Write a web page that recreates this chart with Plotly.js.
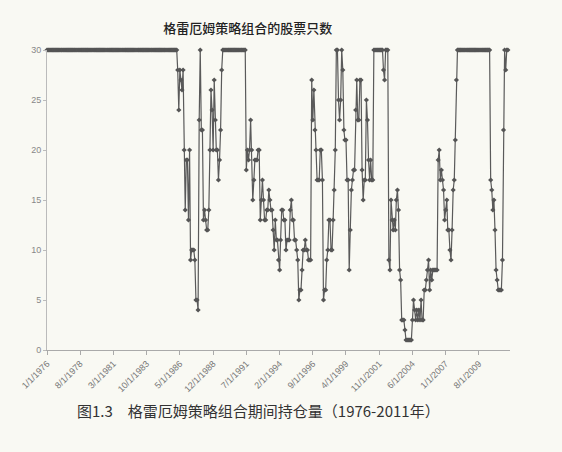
<!DOCTYPE html>
<html>
<head>
<meta charset="utf-8">
<script src="https://cdn.plot.ly/plotly-3.0.1.min.js"></script>
<style>html,body{margin:0;padding:0;background:#f9f9f3;}</style>
</head>
<body>
<div id="chart" style="width:562px;height:452px;"></div>
<script>
// Monthly data starting January 1976
const startYear = 1976;
const holdings = [
30,30,30,30,30,30,30,30,30,30,30,30,
30,30,30,30,30,30,30,30,30,30,30,30,
30,30,30,30,30,30,30,30,30,30,30,30,
30,30,30,30,30,30,30,30,30,30,30,30,
30,30,30,30,30,30,30,30,30,30,30,30,
30,30,30,30,30,30,30,30,30,30,30,30,
30,30,30,30,30,30,30,30,30,30,30,30,
30,30,30,30,30,30,30,30,30,30,30,30,
30,30,30,30,30,30,30,30,30,30,30,30,
30,30,30,30,30,30,30,30,30,30,30,30,
30,30,
28,24,28,27,26,28,20,14,19,19,13,20,9,10,10,10,9,5,5,4,
23,30,22,22,13,14,13,12,12,14,20,26,24,20,27,23,20,20,17,19,22,28,
30,30,30,30,30,30,30,30,30,30,30,30,30,30,30,30,30,30,30,30,30,30,
18,20,19,20,23,20,15,17,19,19,19,20,20,13,15,17,15,13,13,14,
14,16,15,14,14,12,10,13,11,11,9,8,11,14,14,13,13,10,11,11,
11,14,15,13,13,11,11,10,9,5,6,6,8,10,10,11,10,10,9,9,
9,27,23,26,22,20,17,17,17,20,20,17,5,6,6,9,10,13,13,10,
10,13,16,20,30,30,25,23,25,30,28,22,21,21,17,17,8,12,16,17,
18,18,24,27,23,23,27,27,18,15,17,17,25,23,19,17,19,17,17,
30,30,30,30,30,30,30,30,30,28,27,30,30,30,
9,8,15,13,12,13,12,15,16,14,8,7,3,3,3,2,1,1,1,1,1,1,
3,5,4,3,4,3,4,3,5,3,3,6,6,7,8,9,6,8,7,8,8,8,8,8,
19,20,17,18,17,16,13,14,15,12,12,10,9,12,16,17,21,27,
30,30,30,30,30,30,30,30,30,30,30,30,30,30,30,30,
30,30,30,30,30,30,30,30,30,30,30,30,30,30,30,
17,16,14,15,12,8,7,6,6,6,6,9,22,30,28,30,30
];
const tickLabels = ["1/1/1976","8/1/1978","3/1/1981","10/1/1983","5/1/1986","12/1/1988","7/1/1991","2/1/1994","9/1/1996","4/1/1999","11/1/2001","6/1/2004","1/1/2007","8/1/2009"];
const yTicks = [0,5,10,15,20,25,30];
const chartTitle = "格雷厄姆策略组合的股票只数";
const caption = "图1.3　格雷厄姆策略组合期间持仓量（1976-2011年）";

function pad(n){return (n<10?'0':'')+n;}
const dates = holdings.map((v,i)=> (startYear+Math.floor(i/12))+'-'+pad(i%12+1)+'-01');
const tickVals = tickLabels.map(s=>{const p=s.split('/');return p[2]+'-'+pad(+p[0])+'-'+pad(+p[1]);});

const trace = {
  x: dates, y: holdings, type:'scatter', mode:'lines+markers',
  line:{color:'#5a5a5a', width:1.2},
  marker:{symbol:'diamond', size:4, color:'#555555'},
  cliponaxis:false, hoverinfo:'x+y'
};
const layout = {
  width:562, height:452,
  margin:{l:47, r:52, t:50, b:102},
  paper_bgcolor:'#f9f9f3', plot_bgcolor:'#f9f9f3',
  showlegend:false,
  font:{family:'"Noto Sans CJK SC", "Liberation Sans", sans-serif', color:'#777'},
  title:{text:chartTitle, x:0.441, xref:'container', xanchor:'center', y:0.938, yref:'container', yanchor:'middle',
         font:{size:13, color:'#222', family:'"Noto Sans CJK SC", sans-serif', weight:500}},
  xaxis:{type:'date', range:['1976-01-01','2012-01-01'], tickvals:tickVals, ticktext:tickLabels,
         tickangle:-45, tickfont:{size:9, color:'#777', family:'"Liberation Sans", Arial, sans-serif'},
         showgrid:false, zeroline:false, showline:true, linecolor:'#aaa', linewidth:1,
         ticks:'outside', ticklen:4, tickcolor:'#aaa'},
  yaxis:{range:[0,30], tickvals:yTicks, showgrid:false, zeroline:false, showline:true, linecolor:'#bbb', linewidth:1,
         ticks:'outside', ticklen:3, tickcolor:'#bbb',
         tickfont:{size:9, color:'#888', family:'"Liberation Sans", Arial, sans-serif'}},
  annotations:[{text:caption, xref:'paper', yref:'paper', x:0.06, y:-0.2, xanchor:'left', yanchor:'middle',
                showarrow:false, font:{size:15, color:'#333', family:'"Noto Sans CJK SC", sans-serif'}}]
};
Plotly.newPlot('chart',[trace],layout,{displayModeBar:false, staticPlot:true});
</script>
</body>
</html>
